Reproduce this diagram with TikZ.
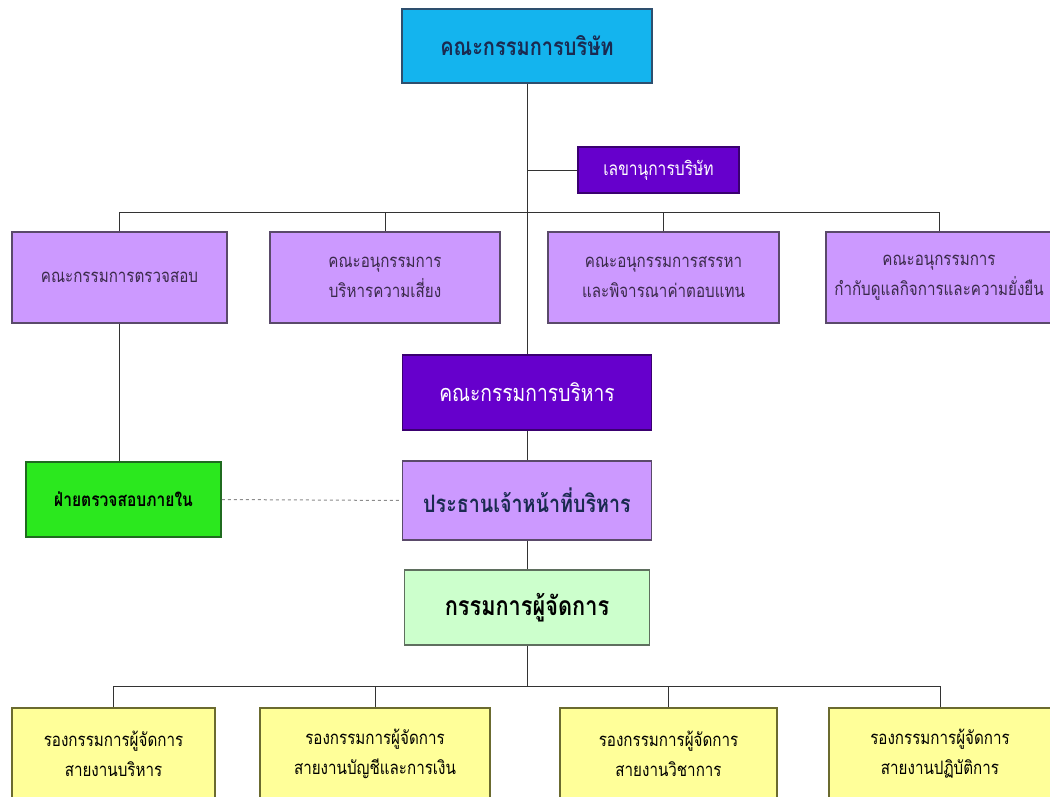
\documentclass[tikz,border=0pt]{standalone}
\usepackage{fontspec}
\newfontfamily\thai[Script=Thai,FakeStretch=0.82]{Loma}
\definecolor{cyanfill}{HTML}{14B4EE}
\definecolor{cyanline}{HTML}{2E4F6E}
\definecolor{deeppurple}{HTML}{6600CC}
\definecolor{deepline}{HTML}{3A0070}
\definecolor{lilac}{HTML}{CC99FF}
\definecolor{lilacline}{HTML}{5A4A6A}
\definecolor{brightgreen}{HTML}{2BE81E}
\definecolor{greenline}{HTML}{1F6B1F}
\definecolor{palegreen}{HTML}{CCFFCC}
\definecolor{palegreenline}{HTML}{5F6F5F}
\definecolor{paleyellow}{HTML}{FFFF99}
\definecolor{yellowline}{HTML}{6B6B2F}
\definecolor{navytext}{HTML}{1A2A50}
\definecolor{lilactext}{HTML}{3A2A4A}
\tikzset{
  box/.style={draw, line width=1.6pt, inner sep=0pt, align=center, font=\thai},
  conn/.style={draw=black!80, line width=0.8pt},
  dashconn/.style={draw=black!45, line width=1pt, dashed},
}
\begin{document}
\begin{tikzpicture}[x=1pt,y=-1pt]
\useasboundingbox (0,0) rectangle (1050,796);
% nodes
\node[box, fill=cyanfill, draw=cyanline, minimum width=250, minimum height=74, text=navytext,
  font=\thai\bfseries\fontsize{24.4}{28}\selectfont] (board) at (527,46) {คณะกรรมการบริษัท};
\node[box, fill=deeppurple, draw=deepline, minimum width=161, minimum height=46, text=white,
  font=\thai\fontsize{19}{22}\selectfont] (sec) at (658.5,170) {เลขานุการบริษัท};
\node[box, fill=lilac, draw=lilacline, minimum width=215, minimum height=91, text=lilactext,
  font=\thai\fontsize{18.5}{30}\selectfont] (c1) at (119.5,277.5) {คณะกรรมการตรวจสอบ};
\node[box, fill=lilac, draw=lilacline, minimum width=230, minimum height=91, text=lilactext,
  font=\thai\fontsize{18.5}{30}\selectfont] (c2) at (385,277.5) {คณะอนุกรรมการ\\บริหารความเสี่ยง};
\node[box, fill=lilac, draw=lilacline, minimum width=231, minimum height=91, text=lilactext,
  font=\thai\fontsize{18.5}{30}\selectfont] (c3) at (663.5,277.5) {คณะอนุกรรมการสรรหา\\และพิจารณาค่าตอบแทน};
\node[box, fill=lilac, draw=lilacline, minimum width=226, minimum height=91, text=lilactext,
  font=\thai\fontsize{18.5}{30}\selectfont] (c4) at (939,277.5) {คณะอนุกรรมการ\\กำกับดูแลกิจการและความยั่งยืน};
\node[box, fill=deeppurple, draw=deepline, minimum width=249, minimum height=75, text=white,
  font=\thai\fontsize{23.5}{27}\selectfont] (exec) at (527,392.5) {คณะกรรมการบริหาร};
\node[box, fill=brightgreen, draw=greenline, minimum width=195, minimum height=75, text=black,
  font=\thai\bfseries\fontsize{19}{22}\selectfont] (audit) at (123.5,499.5) {ฝ่ายตรวจสอบภายใน};
\node[box, fill=lilac, draw=lilacline, minimum width=249, minimum height=79, text=navytext,
  font=\thai\bfseries\fontsize{24}{28}\selectfont] (ceo) at (527,500.5) {ประธานเจ้าหน้าที่บริหาร};
\node[box, fill=palegreen, draw=palegreenline, minimum width=245, minimum height=75, text=black,
  font=\thai\bfseries\fontsize{26.5}{30}\selectfont] (md) at (527,607.5) {กรรมการผู้จัดการ};
\node[box, fill=paleyellow, draw=yellowline, minimum width=203, minimum height=92, text=black,
  font=\thai\fontsize{18.5}{30}\selectfont] (b1) at (113.5,754) {รองกรรมการผู้จัดการ\\สายงานบริหาร};
\node[box, fill=paleyellow, draw=yellowline, minimum width=230, minimum height=92, text=black,
  font=\thai\fontsize{18.5}{30}\selectfont] (b2) at (375,754) {รองกรรมการผู้จัดการ\\สายงานบัญชีและการเงิน};
\node[box, fill=paleyellow, draw=yellowline, minimum width=217, minimum height=92, text=black,
  font=\thai\fontsize{18.5}{30}\selectfont] (b3) at (668.5,754) {รองกรรมการผู้จัดการ\\สายงานวิชาการ};
\node[box, fill=paleyellow, draw=yellowline, minimum width=222, minimum height=92, text=black,
  font=\thai\fontsize{18.5}{30}\selectfont] (b4) at (940,754) {รองกรรมการผู้จัดการ\\สายงานปฏิบัติการ};
% bus coordinates
\coordinate (topbus) at (527,212);
\coordinate (botbus) at (527,686);
% connectors
\draw[conn] (board.south) -- (exec.north);
\draw[conn] (board.south |- sec.west) -- (sec.west);
\draw[conn] (c1.north) -- (c1.north |- topbus) -- (c4.north |- topbus) -- (c4.north);
\draw[conn] (c2.north) -- (c2.north |- topbus);
\draw[conn] (c3.north) -- (c3.north |- topbus);
\draw[conn] (c1.south) -- (c1.south |- audit.north);
\draw[dashconn] (audit.east) -- (ceo.west);
\draw[conn] (exec.south) -- (ceo.north);
\draw[conn] (ceo.south) -- (md.north);
\draw[conn] (md.south) -- (botbus);
\draw[conn] (b1.north) -- (b1.north |- botbus) -- (b4.north |- botbus) -- (b4.north);
\draw[conn] (b2.north) -- (b2.north |- botbus);
\draw[conn] (b3.north) -- (b3.north |- botbus);
\end{tikzpicture}
\end{document}
